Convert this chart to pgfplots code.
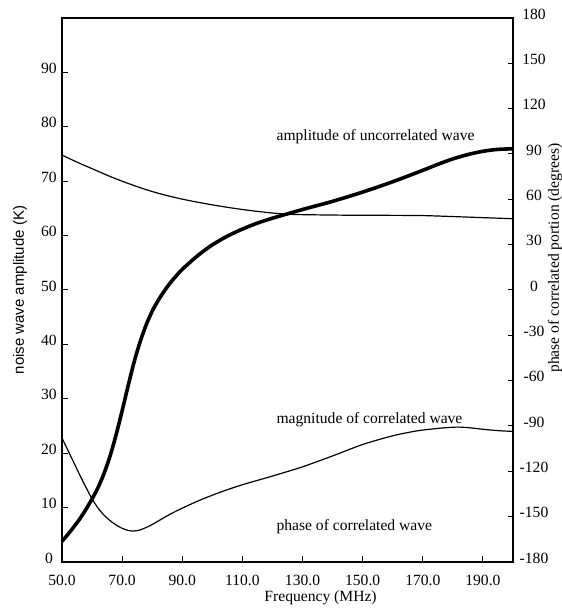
\documentclass[border=0pt]{standalone}
\usepackage{pgfplots}
\pgfplotsset{compat=1.18}
\usepackage{fontspec}
\setmainfont{Liberation Serif}
\newfontfamily\labelsans{Liberation Sans}

% noise wave amplitude of the uncorrelated part (K)
\pgfplotstableread{
f   T
50   3.8
52   5.1
54   6.5
56   8.0
58   9.7
60  11.6
62  13.7
64  16.3
66  19.5
68  23.4
70  27.8
72  32.4
74  36.8
76  40.5
78  43.6
80  46.1
82  48.1
84  49.8
86  51.3
88  52.6
90  53.8
93  55.3
96  56.7
100 58.3
105 59.9
110 61.2
115 62.3
120 63.2
125 64.0
130 64.8
140 66.3
150 68.0
160 69.9
170 72.0
175 73.1
180 74.1
185 74.9
190 75.5
195 75.85
200 75.95
}\tabUncorr

% upper thin curve
\pgfplotstableread{
f   T
50  74.8
55  73.5
60  72.3
65  71.1
70  70.0
75  69.0
80  68.1
85  67.35
90  66.7
95  66.15
100 65.65
105 65.2
110 64.8
115 64.45
120 64.15
125 63.95
130 63.85
145 63.75
160 63.72
170 63.68
180 63.5
190 63.3
200 63.1
}\tabUpper

% lower thin curve
\pgfplotstableread{
f   T
50  22.8
52  20.5
54  18.2
56  15.9
58  13.7
60  11.6
62   9.9
64   8.6
66   7.6
68   6.8
70   6.2
72   5.8
74   5.7
76   5.9
78   6.35
80   6.9
83   7.85
86   8.8
90   9.9
96  11.4
103 12.9
110 14.2
120 15.8
130 17.5
140 19.5
150 21.6
160 23.2
168 24.1
174 24.5
178 24.7
182 24.8
186 24.65
190 24.4
195 24.15
200 24.0
}\tabLower

\begin{document}
\begin{tikzpicture}[font=\fontsize{15.6bp}{18bp}\selectfont]
\begin{axis}[
  at={(0,0)}, anchor=south west,
  scale only axis, width=451bp, height=544bp,
  xmin=50, xmax=200, ymin=0, ymax=100,
  xtick={50,70,...,190},
  ytick={0,10,...,90},
  xtick pos=bottom, ytick pos=left,
  tick align=inside, major tick length=6bp,
  axis line style={line width=1.3bp},
  tick style={line width=1bp, black},
  /pgf/number format/assume math mode=true,
  xticklabel style={anchor=center, yshift=-18bp,
    /pgf/number format/.cd, fixed, fixed zerofill, precision=1},
  yticklabel style={anchor=center, xshift=-13bp, yshift=4bp},
  clip=false,
]
\addplot[black, line width=3.6bp, smooth] table[x=f, y=T] {\tabUncorr};
\addplot[black, line width=1.2bp, smooth] table[x=f, y=T] {\tabUpper};
\addplot[black, line width=1.2bp, smooth] table[x=f, y=T] {\tabLower};

\node[anchor=west, inner sep=0pt] at (axis cs:121.3,78.1) {amplitude of uncorrelated wave};
\node[anchor=west, inner sep=0pt] at (axis cs:121.3,26.2) {magnitude of correlated wave};
\node[anchor=west, inner sep=0pt] at (axis cs:121.3,6.5) {phase of correlated wave};

\node[inner sep=0pt] at ([yshift=-36bp]axis cs:136,0) {Frequency (MHz)};
\node[inner sep=0pt, rotate=90] at ([xshift=-42bp]rel axis cs:0,0.5)
  {\labelsans\fontsize{15bp}{18bp}\selectfont noise wave amplitude (K)};
\node[inner sep=0pt, rotate=90] at ([xshift=42bp, yshift=32bp]rel axis cs:1,0.5)
  {phase of correlated portion (degrees)};
\end{axis}

\begin{axis}[
  at={(0,0)}, anchor=south west,
  scale only axis, width=451bp, height=544bp,
  xmin=50, xmax=200, ymin=-180, ymax=180,
  axis x line=none, axis y line*=right,
  ytick={-180,-150,...,180},
  tick align=inside, major tick length=5bp,
  axis line style={line width=1.3bp},
  tick style={line width=1bp, black},
  /pgf/number format/assume math mode=true,
  yticklabel style={anchor=center, xshift=21bp, yshift=4bp},
]
\end{axis}

\pgfresetboundingbox
\path[use as bounding box] (-62bp,-47bp) rectangle (500bp,562bp);
\end{tikzpicture}
\end{document}
